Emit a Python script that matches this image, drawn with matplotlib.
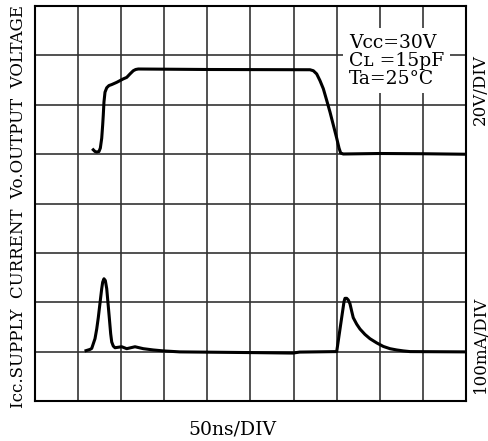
import matplotlib.pyplot as plt

# --- data (time in ns, 50ns/DIV) ---
t_vo = [67.6, 69.6, 71.6, 74.2, 75.8, 77.4, 78.5, 79.2, 80.0, 81.2, 83.2, 85.8,
        89.0, 94.8, 98.6, 102.4, 106.4, 110.2, 114.0, 116.8, 119.8,
        200.0, 319.0, 322.9, 326.8, 330.6, 334.5, 338.4, 342.2, 346.1, 350.0,
        352.7, 354.6, 357.6, 400.0, 450.0, 500.0]
vo = [1.8, 1.1, 0.9, 1.1, 2.5, 6.5, 11.8, 15.8, 21.1, 25.1, 26.9, 27.8,
      28.2, 29.1, 29.8, 30.5, 31.1, 32.5, 33.8, 34.3, 34.5,
      34.3, 34.2, 33.8, 32.5, 29.8, 26.5, 21.8, 17.1, 11.8, 6.5,
      2.5, 0.5, 0.1, 0.3, 0.2, 0.0]

t_icc = [59.2, 63.8, 65.8, 69.6, 71.6, 73.4, 75.4, 77.4, 78.5, 80.0, 81.6, 83.2,
         86.2, 87.8, 89.0, 90.8, 92.8, 100.6, 106.4, 116.0, 125.6, 137.2, 148.8,
         168.0, 249.0, 299.0, 307.0, 350.0, 358.5, 359.6, 361.6, 363.4, 365.4,
         367.4, 369.2, 373.2, 377.0, 382.8, 388.6, 396.4, 404.1, 411.8, 419.6,
         427.3, 435.0, 500.0]
icc = [2.5, 5.0, 7.0, 26.7, 46.3, 69.0, 98.6, 128.0, 141.0, 148.0, 144.3, 128.0,
       69.0, 36.5, 20.0, 11.8, 8.4, 10.4, 6.5, 10.4, 6.5, 3.9, 2.0,
       0.0, -1.4, -2.4, -0.4, 0.6, 101.8, 108.4, 108.4, 105.1, 97.3,
       82.2, 69.2, 56.1, 46.3, 35.3, 26.7, 18.2, 11.0, 6.5, 3.9,
       2.0, 0.6, 0.0]

# scope settings
v_per_div = 20.0     # V/DIV
i_per_div = 100.0    # mA/DIV
t_per_div = 50.0     # ns/DIV
vo_zero = 5          # division of the 0 V line
icc_zero = 1         # division of the 0 mA line

fig = plt.figure(figsize=(4.89, 4.41), dpi=100)
ax = fig.add_axes([35 / 489, 1 - 401.3 / 441, 431 / 489, 395.3 / 441])

x_v = [t / t_per_div for t in t_vo]
y_v = [vo_zero + v / v_per_div for v in vo]
x_i = [t / t_per_div for t in t_icc]
y_i = [icc_zero + i / i_per_div for i in icc]

ax.plot(x_v, y_v, color='black', lw=2.2, solid_joinstyle='round', zorder=3)
ax.plot(x_i, y_i, color='black', lw=2.2, solid_joinstyle='round', zorder=3)

ax.set_xlim(0, 10)
ax.set_ylim(0, 8)
ax.set_xticks(range(11))
ax.set_yticks(range(9))
ax.grid(True, color='#333333', lw=1.2)
ax.tick_params(length=0, labelbottom=False, labelleft=False)
for s in ax.spines.values():
    s.set_linewidth(1.5)
    s.set_color('black')

serif = 'DejaVu Serif'
ax.text(7.28, 7.44, 'Vcc=30V\nCʟ =15pF\nTa=25°C', fontsize=13.5, family=serif,
        va='top', ha='left', linespacing=1.0, zorder=4,
        bbox=dict(facecolor='white', edgecolor='none', pad=4))

fig.text(19 / 489, 1 - 207 / 441, 'Icc.SUPPLY  CURRENT  Vo.OUTPUT  VOLTAGE',
         rotation=90, ha='center', va='center', fontsize=12, family=serif)
fig.text(480 / 489, 1 - 90 / 441, '20V/DIV', rotation=90, ha='center',
         va='center', fontsize=12, family=serif)
fig.text(480 / 489, 1 - 344 / 441, '100mA/DIV', rotation=90, ha='center',
         va='center', fontsize=12, family=serif)
fig.text(232 / 489, 1 - 429 / 441, '50ns/DIV', ha='center', va='center',
         fontsize=13.5, family=serif)

fig.savefig('out.png', dpi=100)
